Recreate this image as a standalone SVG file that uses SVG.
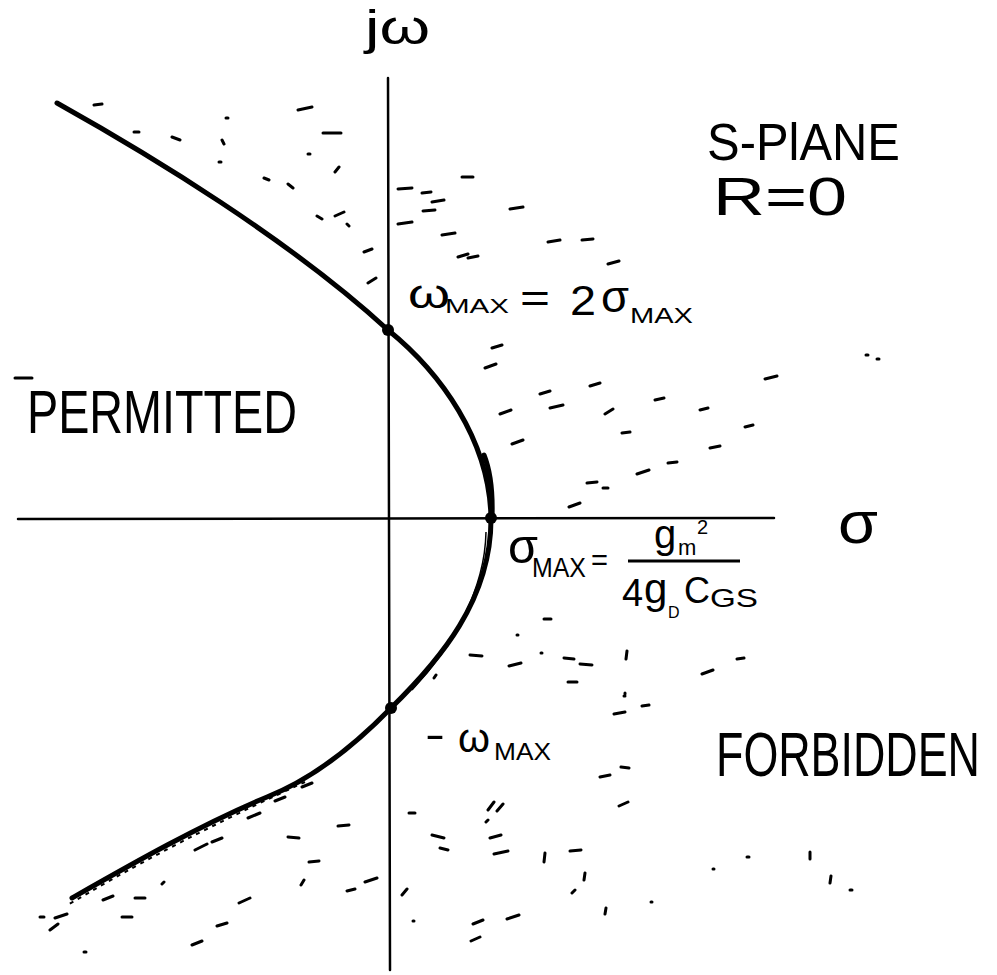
<svg xmlns="http://www.w3.org/2000/svg" width="997" height="975" viewBox="0 0 997 975">
<style>
.t{font-family:"Liberation Sans","DejaVu Sans",sans-serif;fill:#000}
.ax{stroke:#000;stroke-width:2.5;fill:none;stroke-linecap:round}
.cv{stroke:#000;stroke-width:5;fill:none;stroke-linecap:round;stroke-linejoin:round}
.st{stroke:#000;stroke-width:3;fill:none;stroke-linecap:round}
</style>
<rect width="997" height="975" fill="#fff"/>
<g id="stipple">
<path class="st" d="M94,105 l8,-1 M134,132 l5,0 M172,137 l8,3 M226,118 l2,0 M222,140 l2,4 M219,162 l2,0 M264,178 l5,2 M288,184 l5,4 M298,110 l14,-3 M323,133 l18,0 M308,154 l2,0 M335,172 l4,-5 M317,216 l5,3 M335,216 l9,-4 M347,224 l2,2 M364,252 l8,-3 M368,283 l8,-5 M398,189 l14,-1 M398,224 l14,-2 M422,193 l9,-1 M432,202 l12,-2 M423,211 l12,-1 M442,235 l13,-2 M458,257 l10,-3 M462,177 l11,0 M485,368 l11,-4 M15,378 l17,0"/>
<path class="st" d="M510,209 l13,-2 M548,242 l12,-2 M582,240 l11,-1 M608,264 l11,-3 M468,258 l10,-2 M492,348 l10,-3 M540,394 l10,-3 M590,386 l10,-3 M655,400 l9,-2 M700,410 l8,-2 M765,379 l12,-3 M866,355 l2,0 M877,359 l2,0 M500,414 l11,-4 M550,408 l13,-3 M605,414 l8,-5 M512,444 l11,-4 M622,433 l8,-1 M710,448 l10,-2 M745,427 l8,-2 M668,463 l9,-1 M637,474 l12,-4 M587,483 l10,-1 M603,488 l5,0 M569,507 l11,-4"/>
<path class="st" d="M544,619 l7,0 M470,655 l12,1 M509,666 l12,-3 M564,658 l10,1 M580,664 l12,1 M627,651 l-1,8 M568,682 l9,0 M702,674 l11,-4 M737,659 l7,-1 M625,693 l0,1 M517,635 l1,0 M541,653 l1,0 M624,696 l1,0 M614,714 l11,-2 M642,706 l7,-1 M600,777 l10,-2 M621,767 l8,1 M619,806 l9,-4 M497,811 l6,-7 M486,822 l2,-2 M440,848 l8,2 M494,854 l14,-3 M545,853 l-1,9 M570,851 l11,-1 M585,873 l-1,7 M572,893 l3,-3 M606,908 l-1,6 M651,902 l1,0 M507,919 l12,-4 M471,941 l9,-4 M713,869 l1,0 M747,857 l2,0 M810,852 l0,7 M831,876 l-1,7 M850,890 l2,0"/>
<path class="st" d="M338,826 l11,-1 M288,837 l11,1 M309,862 l10,-1 M304,880 l-3,5 M365,882 l12,-4 M347,891 l8,-2 M239,903 l11,-5 M217,926 l10,-3 M192,945 l10,-4 M432,835 l12,3 M409,813 l6,0 M402,895 l5,-6 M413,921 l1,0 M473,924 l10,-4 M490,838 l11,-3 M488,810 l6,-8 M434,678 l2,-3 M55,918 l12,-4 M50,930 l8,-6 M40,917 l4,0 M84,952 l2,0 M103,900 l10,-4 M135,898 l10,0 M122,917 l10,0 M162,884 l2,-2 M195,850 l12,-6 M212,842 l10,-4 M248,818 l12,-5 M275,801 l10,-4 M302,787 l10,-4"/>
<path d="M305,782 C240,812 160,850 66,906" stroke="#000" stroke-width="2" fill="none" stroke-dasharray="4 5"/>
</g>
<g id="axes">
<path class="ax" d="M388,78 L390,970"/>
<path class="ax" d="M18,519 L774,518"/>
</g>
<g id="boundary">
<path class="cv" d="M57,103 C150,155 290,240 388,330"/>
<path class="cv" d="M388,330 C440,372 490,440 491,519 C491,600 440,660 391,708"/>
<path class="cv" stroke-width="6" d="M391,708 C355,745 315,778 267,797 C200,825 130,865 72,898"/>
<path class="cv" stroke-width="8" d="M484,455 C490,470 493,490 492,518"/>
<path d="M486,532 C485,590 452,648 412,690" stroke="#000" stroke-width="1.5" fill="none"/>
</g>
<g id="points">
<circle cx="388" cy="330" r="6"/>
<circle cx="491" cy="518" r="6"/>
<circle cx="391" cy="708" r="6"/>
</g>
<g id="label-jw"><text class="t" x="365" y="44" font-size="48" textLength="65" lengthAdjust="spacingAndGlyphs">jω</text></g>
<g id="label-splane">
<text class="t" x="707" y="160" font-size="52" textLength="193" lengthAdjust="spacingAndGlyphs">S-PlANE</text>
<text class="t" x="713" y="215" font-size="54" textLength="134" lengthAdjust="spacingAndGlyphs">R=0</text>
</g>
<g id="label-sigma"><text class="t" x="838" y="543" font-size="60" textLength="40" lengthAdjust="spacingAndGlyphs">σ</text></g>
<g id="label-permitted"><text class="t" x="27" y="433" font-size="62" textLength="270" lengthAdjust="spacingAndGlyphs">PERMITTED</text></g>
<g id="label-forbidden"><text class="t" transform="translate(716,776) scale(1,1.38)" x="0" y="0" font-size="45" textLength="264" lengthAdjust="spacingAndGlyphs">FORBIDDEN</text></g>
<g id="label-wmax">
<text class="t" x="408" y="308" font-size="40" textLength="42" lengthAdjust="spacingAndGlyphs">ω</text>
<text class="t" x="445" y="313" font-size="20" textLength="64" lengthAdjust="spacingAndGlyphs">MAX</text>
<text class="t" x="520" y="312" font-size="40" textLength="30" lengthAdjust="spacingAndGlyphs">=</text>
<text class="t" x="570" y="315" font-size="42" textLength="26" lengthAdjust="spacingAndGlyphs">2</text>
<text class="t" x="601" y="312" font-size="44" textLength="28" lengthAdjust="spacingAndGlyphs">σ</text>
<text class="t" x="630" y="323" font-size="22" textLength="63" lengthAdjust="spacingAndGlyphs">MAX</text>
</g>
<g id="label-sigmamax">
<text class="t" x="508" y="563" font-size="48" textLength="30" lengthAdjust="spacingAndGlyphs">σ</text>
<text class="t" x="532" y="577" font-size="28" textLength="54" lengthAdjust="spacingAndGlyphs">MAX</text>
<text class="t" x="591" y="570" font-size="30" textLength="17" lengthAdjust="spacingAndGlyphs">=</text>
<text class="t" x="654" y="548" font-size="40">g</text>
<text class="t" x="678" y="555" font-size="22">m</text>
<text class="t" x="697" y="534" font-size="20">2</text>
<line x1="628" y1="561" x2="740" y2="561" stroke="#000" stroke-width="3"/>
<text class="t" x="622" y="606" font-size="38">4</text>
<text class="t" x="644" y="603" font-size="42">g</text>
<text class="t" x="668" y="618" font-size="16">D</text>
<text class="t" x="684" y="603" font-size="36">C</text>
<text class="t" x="710" y="607" font-size="26" textLength="48" lengthAdjust="spacingAndGlyphs">GS</text>
</g>
<g id="label-negwmax">
<text class="t" x="425" y="748" font-size="40" textLength="20" lengthAdjust="spacingAndGlyphs">-</text>
<text class="t" x="458" y="752" font-size="40" textLength="32" lengthAdjust="spacingAndGlyphs">ω</text>
<text class="t" x="494" y="760" font-size="24" textLength="57" lengthAdjust="spacingAndGlyphs">MAX</text>
</g>
</svg>
